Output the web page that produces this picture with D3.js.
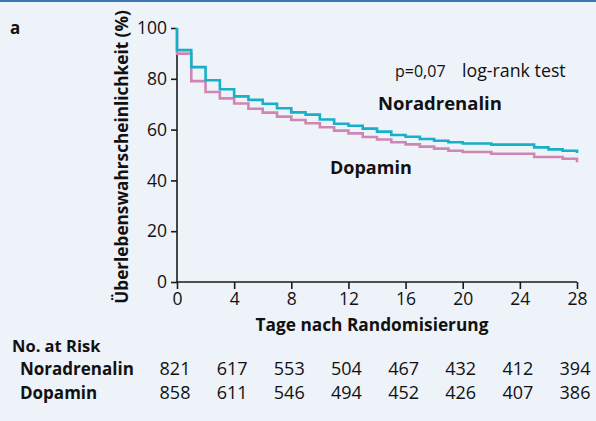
<!DOCTYPE html>
<html><head><meta charset="utf-8">
<script src="https://cdn.jsdelivr.net/npm/d3@7"></script>
<style>
html,body{margin:0;padding:0;background:#eef2f9;}
svg{display:block;}
text{font-family:"Open Sans","Noto Sans",sans-serif;fill:#111;}
</style></head>
<body>
<script>
// ---- data ----
const days = d3.range(0, 29); // 0..28
const noradrenalin = [91.3,84.6,79.4,75.9,73.1,71.7,70.2,68.4,66.8,65.9,64.0,62.3,61.5,60.4,59.2,57.9,57.2,56.3,55.6,55.0,54.5,54.5,54.1,54.1,54.1,53.0,52.2,51.7,50.8];
const dopamin      = [89.9,79.1,74.8,72.3,70.3,68.2,66.7,65.1,63.8,62.5,60.9,59.6,58.5,57.1,56.1,55.0,54.2,53.3,52.5,51.7,51.2,51.2,50.5,50.5,50.5,49.2,49.2,48.5,47.1];
const xTicks = [0,4,8,12,16,20,24,28];
const yTicks = [0,20,40,60,80,100];
const riskNoradrenalin = [821,617,553,504,467,432,412,394];
const riskDopamin      = [858,611,546,494,452,426,407,386];

const W = 596, H = 421;
const svg = d3.select("body").append("svg").attr("width", W).attr("height", H);
svg.append("rect").attr("width", W).attr("height", H).attr("fill", "#eef2f9");
svg.append("rect").attr("x",0).attr("y",0).attr("width",W).attr("height",2).attr("fill","#3b78b4");

const x = d3.scaleLinear().domain([0, 28]).range([177, 577]);
const y = d3.scaleLinear().domain([0, 100]).range([282, 28]);

const axisColor = "#1a1a1a";
// y axis
const gy = svg.append("g").attr("transform", `translate(${x(0)},0)`)
  .call(d3.axisLeft(y).tickValues(yTicks).tickSize(6).tickPadding(4).tickFormat(d3.format("d")));
// x axis
const gx = svg.append("g").attr("transform", `translate(0,${y(0)})`)
  .call(d3.axisBottom(x).tickValues(xTicks).tickSize(7).tickPadding(4).tickFormat(d3.format("d")));
[gx, gy].forEach(g => {
  g.select(".domain").attr("stroke", axisColor).attr("stroke-width", 1.6);
  g.selectAll(".tick line").attr("stroke", axisColor).attr("stroke-width", 1.6);
  g.selectAll(".tick text").attr("font-size", 17.5).attr("fill", "#111")
    .style("font-family", '"Open Sans","Noto Sans",sans-serif');
});
gy.select(".domain").attr("d", `M0,${y(0)}V${y(100)}`);
gx.select(".domain").attr("d", `M${x(0)},0H${x(28)}`);

// curves
function series(vals) {
  return [[0, 100]].concat(vals.map((v, i) => [days[i], v]));
}
const line = d3.line().x(d => x(d[0])).y(d => y(d[1])).curve(d3.curveStepAfter);
svg.append("path").attr("d", line(series(dopamin))).attr("fill", "none")
  .attr("stroke", "#cf86b2").attr("stroke-width", 2.6);
svg.append("path").attr("d", line(series(noradrenalin))).attr("fill", "none")
  .attr("stroke", "#16b0c9").attr("stroke-width", 2.6);

// labels
svg.append("text").attr("x", 10).attr("y", 34).attr("font-size", 17).attr("font-weight", "bold").text("a");
svg.append("text").attr("transform", `translate(128,${(12+302)/2}) rotate(-90)`)
  .attr("text-anchor", "middle").attr("font-size", 17.2).attr("font-weight", "bold")
  .text("Überlebenswahrscheinlichkeit (%)");
svg.append("text").attr("x", x(14) - 5).attr("y", 331).attr("text-anchor", "middle")
  .attr("font-size", 17.3).attr("font-weight", "bold").text("Tage nach Randomisierung");

svg.append("text").attr("x", 395).attr("y", 77).attr("font-size", 16).text("p=0,07");
svg.append("text").attr("x", 462).attr("y", 77).attr("font-size", 17.8).text("log-rank test");
svg.append("text").attr("x", 378).attr("y", 110).attr("font-size", 18.5).attr("font-weight", "bold").text("Noradrenalin");
svg.append("text").attr("x", 330).attr("y", 174).attr("font-size", 18).attr("font-weight", "bold").text("Dopamin");

// risk table
svg.append("text").attr("x", 12).attr("y", 352).attr("font-size", 16.5).attr("font-weight", "bold").text("No. at Risk");
svg.append("text").attr("x", 20).attr("y", 375).attr("font-size", 17).attr("font-weight", "bold").text("Noradrenalin");
svg.append("text").attr("x", 20).attr("y", 399).attr("font-size", 17).attr("font-weight", "bold").text("Dopamin");
[[riskNoradrenalin, 375], [riskDopamin, 399]].forEach(([arr, yy]) => {
  svg.append("g").selectAll("text").data(arr).join("text")
    .attr("x", (d, i) => x(xTicks[i]) - 2).attr("y", yy)
    .attr("text-anchor", "middle").attr("font-size", 18).text(d => d);
});
</script>
</body></html>
